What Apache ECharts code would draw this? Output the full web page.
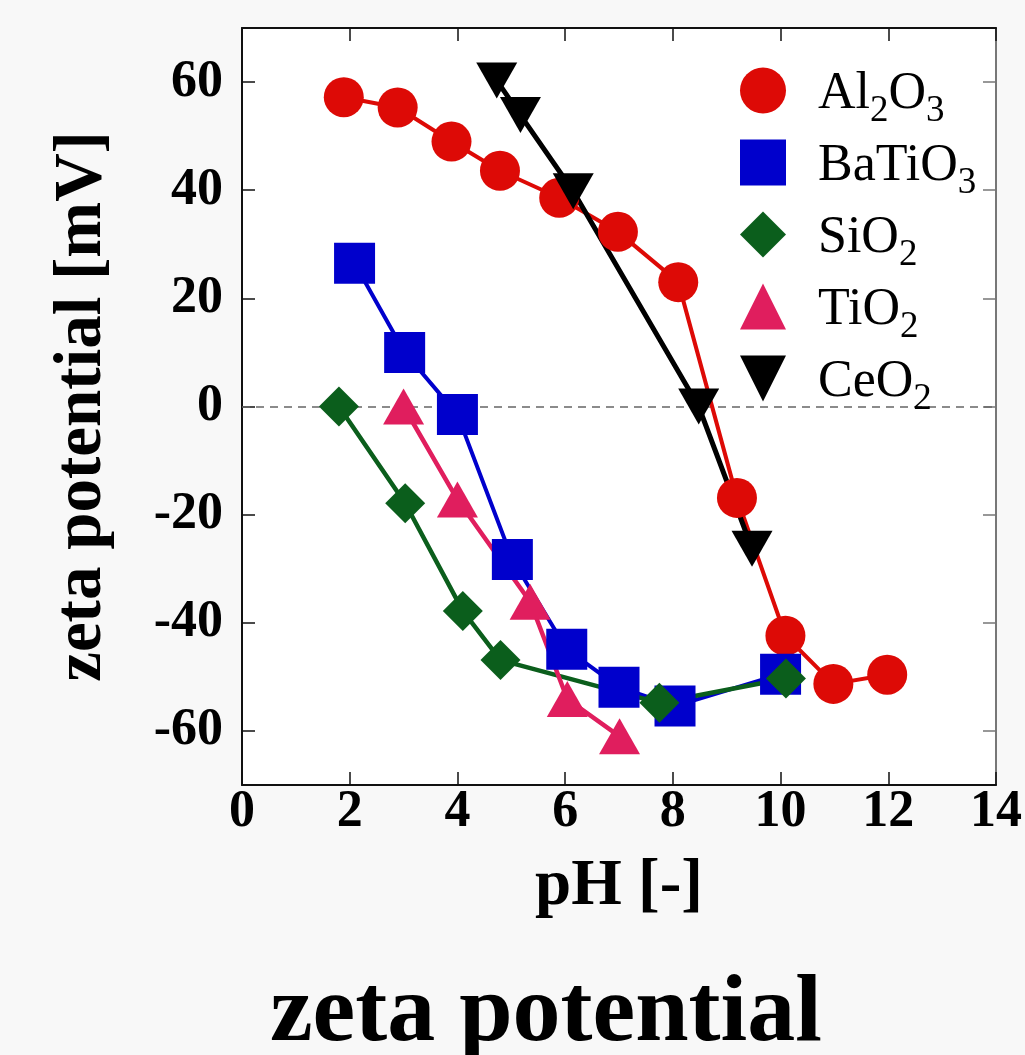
<!DOCTYPE html>
<html><head><meta charset="utf-8">
<script src="https://cdn.jsdelivr.net/npm/echarts@6/dist/echarts.min.js"></script>
<style>html,body{margin:0;padding:0;background:#f8f8f8}#c{width:1025px;height:1055px}</style>
</head><body><div id="c"></div>
<script>
const FONT = "'Liberation Serif','Times New Roman',serif";

// ---- data ----
const seriesNames = ['Al2O3', 'BaTiO3', 'SiO2', 'TiO2', 'CeO2'];
const al2o3X = [1.89, 2.89, 3.89, 4.79, 5.89, 6.98, 8.1, 9.19, 10.09, 10.98, 11.98];
const al2o3Y = [57.2, 55.3, 49.0, 43.6, 38.6, 32.3, 23.0, -16.9, -42.4, -51.3, -49.6];
const batio3X = [2.09, 3.02, 4.0, 5.02, 6.03, 7.0, 8.04, 10.0];
const batio3Y = [26.5, 10.0, -1.5, -28.3, -44.9, -51.9, -55.4, -49.5];
const sio2X = [1.8, 3.03, 4.1, 4.8, 7.75, 10.1];
const sio2Y = [0.0, -17.9, -37.8, -46.9, -54.8, -50.3];
const tio2X = [3.0, 4.0, 5.35, 6.04, 7.01];
const tio2Y = [0.0, -17.2, -36.1, -54.1, -61.0];
const ceo2X = [4.73, 5.17, 6.15, 8.48, 9.47];
const ceo2Y = [60.3, 53.9, 39.8, 0.0, -26.3];
const xTicks = [0, 2, 4, 6, 8, 10, 12, 14];
const yTicks = [-60, -40, -20, 0, 20, 40, 60];

const DOWN_TRI = 'path://M0,0L2,0L1,2Z';
const sets = [
  {x: al2o3X, y: al2o3Y, color: '#dd0a06', symbol: 'circle', size: 40, lw: 4},
  {x: batio3X, y: batio3Y, color: '#0000cc', symbol: 'rect', size: 41, lw: 4},
  {x: sio2X, y: sio2Y, color: '#0b5e1c', symbol: 'diamond', size: 40, lw: 4.5},
  {x: tio2X, y: tio2Y, color: '#e01e5e', symbol: 'triangle', size: [41, 36], lw: 4.5},
  {x: ceo2X, y: ceo2Y, color: '#000000', symbol: DOWN_TRI, size: [41, 36], lw: 5}
];
const zip = (xs, ys) => xs.map((v, i) => [v, ys[i]]);

const scatterSeries = sets.map((s, i) => ({
  type: 'scatter', name: seriesNames[i], data: zip(s.x, s.y), z: 3,
  symbol: s.symbol, symbolSize: s.size, symbolKeepAspect: false,
  itemStyle: {color: s.color, opacity: 1}, silent: true
}));
const lineSeries = sets.map((s, i) => ({
  type: 'line', name: seriesNames[i], data: zip(s.x, s.y), z: 2,
  symbol: 'none', showSymbol: false, silent: true,
  lineStyle: {color: s.color, width: s.lw}
}));
lineSeries[0].markLine = {
  silent: true, symbol: 'none', z: 1, label: {show: false},
  lineStyle: {type: [8, 6], color: '#666', width: 1.5},
  data: [{yAxis: 0}]
};

function subName(name) {
  return name.replace(/([A-Za-z]+)|(\d+)/g, (m, a, d) => a ? '{n|' + a + '}' : '{s|' + d + '}');
}

const axisBase = (pos, showLabel, lineColor) => ({
  type: 'value', position: pos,
  axisLine: {show: true, onZero: false, lineStyle: {color: lineColor, width: 2}},
  axisTick: {show: true, inside: true, length: 13, lineStyle: {color: lineColor, width: 1.5}},
  splitLine: {show: false},
  axisLabel: {show: showLabel, color: '#000', fontFamily: FONT, fontWeight: 'bold', fontSize: 52}
});

const xBottom = Object.assign(axisBase('bottom', true, '#111'), {
  min: 0, max: 14, interval: 2,
  name: 'pH [-]', nameLocation: 'middle', nameGap: 70,
  nameTextStyle: {color: '#000', fontFamily: FONT, fontWeight: 'bold', fontSize: 65}
});
xBottom.axisLabel.margin = 2;
const xTop = Object.assign(axisBase('top', false, '#111'), {min: 0, max: 14, interval: 2});

const yLeft = Object.assign(axisBase('left', true, '#111'), {
  min: -70, max: 70,
  name: 'zeta potential [mV]', nameLocation: 'middle', nameGap: 126,
  nameTextStyle: {color: '#000', fontFamily: FONT, fontWeight: 'bold', fontSize: 67}
});
yLeft.axisLabel.margin = 19;
yLeft.axisLabel.customValues = yTicks;
yLeft.axisTick.customValues = yTicks;
const yRight = Object.assign(axisBase('right', false, '#777'), {min: -70, max: 70});
yRight.axisTick.customValues = yTicks;
yRight.axisLabel.customValues = yTicks;

const chart = echarts.init(document.getElementById('c'));
chart.setOption({
  animation: false,
  backgroundColor: '#f8f8f8',
  title: {
    text: 'zeta potential', left: 270, top: 967, padding: 0,
    textStyle: {color: '#000', fontFamily: FONT, fontWeight: 'bold', fontSize: 96}
  },
  grid: {left: 242, top: 28, right: 27, bottom: 270, show: true, backgroundColor: '#ffffff', borderWidth: 0},
  legend: {
    data: seriesNames, orient: 'vertical', left: 740, top: 51, padding: 0,
    itemWidth: 46, itemHeight: 46, itemGap: -7, selectedMode: false,
    formatter: subName,
    textStyle: {
      padding: [0, 0, 0, 27], color: '#000',
      rich: {
        n: {fontFamily: FONT, fontSize: 52, lineHeight: 52, padding: [8, 0, 0, 0], color: '#000'},
        s: {fontFamily: FONT, fontSize: 37, lineHeight: 52, padding: [42, 0, 0, 0], color: '#000'}
      }
    }
  },
  xAxis: [xBottom, xTop],
  yAxis: [yLeft, yRight],
  series: scatterSeries.concat(lineSeries)
});
</script>
</body></html>
